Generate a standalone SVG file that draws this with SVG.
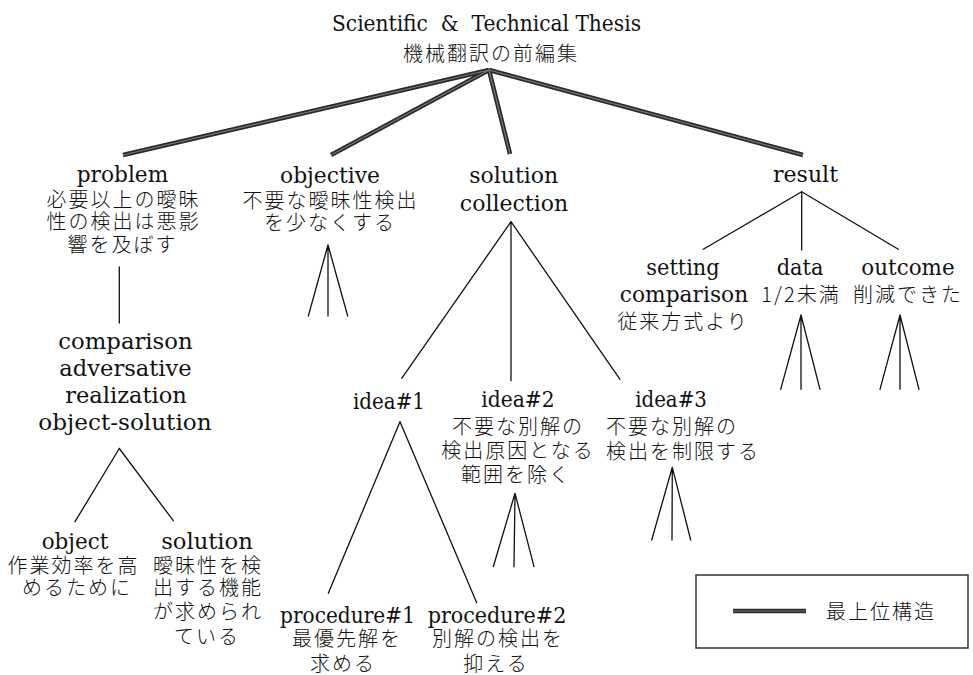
<svg xmlns="http://www.w3.org/2000/svg" width="973" height="675" viewBox="0 0 973 675">
<style>
text{text-anchor:middle;fill:#111}
.en{font-family:"DejaVu Serif","Liberation Serif",serif;font-size:22px}
.jp{font-family:"Noto Sans CJK JP","Noto Sans CJK SC",sans-serif;font-size:20px;letter-spacing:2px;font-weight:300}
.thin{stroke:#111;stroke-width:1.3;fill:none;stroke-linecap:round}
.thickOut{stroke:#2a2a2a;stroke-width:4.6;fill:none;stroke-linecap:butt}
.thickIn{stroke:#777;stroke-width:1.2;fill:none}
</style>
<rect width="973" height="675" fill="#fff"/>

<g id="root">
<text class="en" x="486.5" y="30.5" font-size="21" xml:space="preserve" style="white-space:pre" textLength="309" lengthAdjust="spacingAndGlyphs">Scientific  &amp;  Technical Thesis</text>
<text class="jp" x="491" y="60.5">機械翻訳の前編集</text>
</g>

<g id="connectors">
<g id="top-level">
<path class="thickOut" d="M489 70 L123 155 M489 70 L331 155 M489 70 L510 154 M489 70 L803 155"/>
<path class="thickIn" d="M489 70 L123 155 M489 70 L331 155 M489 70 L510 154 M489 70 L803 155"/>
</g>
<path class="thin" d="M119.3 267 L119.3 323"/>
<path class="thin" d="M119.3 448.5 L75 521.7 M119.3 448.5 L173.3 520.7"/>
<path class="thin" d="M328 245 L308.3 316 M328 245 L328 316 M328 245 L347.7 316"/>
<path class="thin" d="M511 221.7 L401.7 378.3 M511 221.7 L511 380.7 M511 221.7 L620 379.3"/>
<path class="thin" d="M400 421.7 L328.3 593.3 M400 421.7 L476.7 602.7"/>
<path class="thin" d="M515 493.3 L493.3 566.7 M515 493.3 L514 566.7 M515 493.3 L534 566.7"/>
<path class="thin" d="M672.3 467.3 L651.7 540 M672.3 467.3 L672 540 M672.3 467.3 L690.7 540"/>
<path class="thin" d="M801.7 191.7 L703.3 249.3 M801.7 191.7 L801.7 250 M801.7 191.7 L898.3 249.3"/>
<path class="thin" d="M801 315 L780.7 389.3 M801 315 L801 389.3 M801 315 L820 389.3"/>
<path class="thin" d="M900 315 L880 389.3 M900 315 L900 389.3 M900 315 L919 389.3"/>
</g>

<g id="problem">
<text class="en" x="122.5" y="182" textLength="91.6" lengthAdjust="spacingAndGlyphs">problem</text>
<text class="jp" x="123.5" y="206.5">必要以上の曖昧</text>
<text class="jp" x="123.5" y="229">性の検出は悪影</text>
<text class="jp" x="122.5" y="251.5">響を及ぼす</text>
</g>

<g id="objective">
<text class="en" x="330" y="182.5" textLength="100" lengthAdjust="spacingAndGlyphs">objective</text>
<text class="jp" x="330.5" y="207.5">不要な曖昧性検出</text>
<text class="jp" x="330" y="230">を少なくする</text>
</g>

<g id="solution-collection">
<text class="en" x="513.7" y="183.3" textLength="89" lengthAdjust="spacingAndGlyphs">solution</text>
<text class="en" x="514" y="210.7" textLength="108.3" lengthAdjust="spacingAndGlyphs">collection</text>
</g>

<g id="result">
<text class="en" x="805.5" y="182" textLength="65" lengthAdjust="spacingAndGlyphs">result</text>
</g>

<g id="setting-comparison">
<text class="en" x="683" y="275" textLength="73.3" lengthAdjust="spacingAndGlyphs">setting</text>
<text class="en" x="684" y="301.7" textLength="128.3" lengthAdjust="spacingAndGlyphs">comparison</text>
<text class="jp" x="683" y="328.5">従来方式より</text>
</g>

<g id="data">
<text class="en" x="800" y="275" textLength="46.7" lengthAdjust="spacingAndGlyphs">data</text>
<text class="jp" x="801" y="302">1/2未満</text>
</g>

<g id="outcome">
<text class="en" x="908" y="275" textLength="93.3" lengthAdjust="spacingAndGlyphs">outcome</text>
<text class="jp" x="908" y="302">削減できた</text>
</g>

<g id="comparison-adversative">
<text class="en" x="125.5" y="349" textLength="134.3" lengthAdjust="spacingAndGlyphs">comparison</text>
<text class="en" x="125.5" y="376" textLength="132.3" lengthAdjust="spacingAndGlyphs">adversative</text>
<text class="en" x="126" y="403" textLength="121.7" lengthAdjust="spacingAndGlyphs">realization</text>
<text class="en" x="125" y="430" textLength="173.3" lengthAdjust="spacingAndGlyphs">object-solution</text>
</g>

<g id="idea1">
<text class="en" x="389" y="408.5" textLength="72" lengthAdjust="spacingAndGlyphs">idea#1</text>
</g>

<g id="idea2">
<text class="en" x="518" y="407" textLength="73.3" lengthAdjust="spacingAndGlyphs">idea#2</text>
<text class="jp" x="518" y="433.5">不要な別解の</text>
<text class="jp" x="518" y="458">検出原因となる</text>
<text class="jp" x="516" y="482">範囲を除く</text>
</g>

<g id="idea3">
<text class="en" x="671" y="407" textLength="71.7" lengthAdjust="spacingAndGlyphs">idea#3</text>
<text class="jp" x="672" y="433.5">不要な別解の</text>
<text class="jp" x="683" y="458.5">検出を制限する</text>
</g>

<g id="object">
<text class="en" x="75" y="549" textLength="66.7" lengthAdjust="spacingAndGlyphs">object</text>
<text class="jp" x="73.5" y="572.5">作業効率を高</text>
<text class="jp" x="77" y="595">めるために</text>
</g>

<g id="solution">
<text class="en" x="207" y="549" textLength="91.7" lengthAdjust="spacingAndGlyphs">solution</text>
<text class="jp" x="208" y="572.5">曖昧性を検</text>
<text class="jp" x="208" y="595">出する機能</text>
<text class="jp" x="208" y="618.5">が求められ</text>
<text class="jp" x="207" y="644">ている</text>
</g>

<g id="procedure1">
<text class="en" x="347.5" y="622.5" textLength="135" lengthAdjust="spacingAndGlyphs">procedure#1</text>
<text class="jp" x="347" y="646">最優先解を</text>
<text class="jp" x="343" y="670.5">求める</text>
</g>

<g id="procedure2">
<text class="en" x="497" y="622.5" textLength="138.7" lengthAdjust="spacingAndGlyphs">procedure#2</text>
<text class="jp" x="498" y="646">別解の検出を</text>
<text class="jp" x="496" y="670.5">抑える</text>
</g>

<g id="legend">
<rect x="696" y="575" width="272" height="73" fill="none" stroke="#333" stroke-width="1.5"/>
<path class="thickOut" d="M733 611 L806 611"/>
<path class="thickIn" d="M733 611 L806 611"/>
<text class="jp" x="881" y="618.5">最上位構造</text>
</g>
</svg>
